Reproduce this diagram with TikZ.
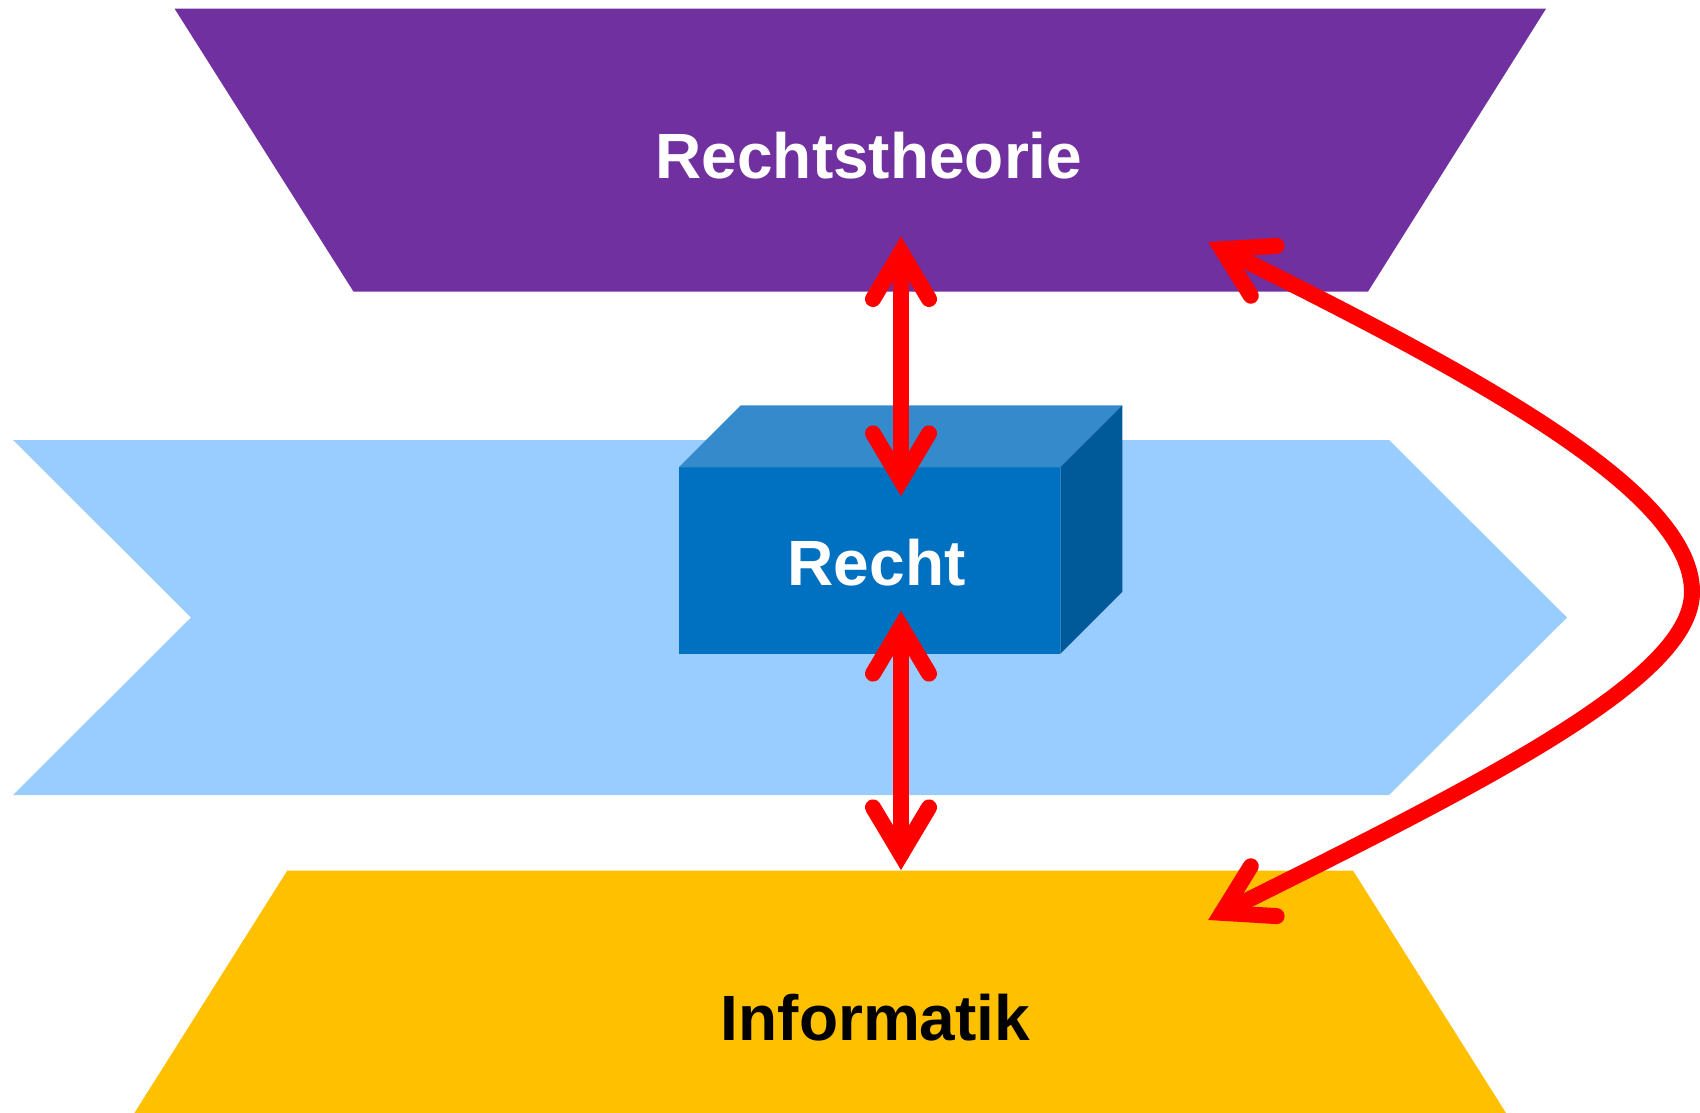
\documentclass[tikz,border=0pt]{standalone}
\usepackage{fontspec}
\setmainfont{Liberation Sans}
\definecolor{purp}{HTML}{7030A0}
\definecolor{lblue}{HTML}{99CCFF}
\definecolor{bfront}{HTML}{0070C0}
\definecolor{btop}{HTML}{358ACB}
\definecolor{bside}{HTML}{005A9A}
\definecolor{yell}{HTML}{FFC000}
\definecolor{arrred}{HTML}{FF0000}
\begin{document}
\begin{tikzpicture}[x=1pt,y=-1pt,
  lbl/.style={font=\fontsize{64}{76}\selectfont\bfseries, inner sep=0pt, anchor=base},
  link/.style={draw=arrred, line width=16pt, line cap=round, line join=miter}]
\useasboundingbox (0,0) rectangle (1700,1113);
% bands
\fill[purp] (174.6,8.7) -- (1546,8.7) -- (1368,291.6) -- (353.5,291.6) -- cycle;
\fill[lblue] (13,440) -- (1389,440) -- (1567,617.5) -- (1389,795) -- (13,795) -- (191,617.5) -- cycle;
\fill[yell] (287.3,870.6) -- (1353,870.6) -- (1506,1113) -- (134.4,1113) -- cycle;
% box
\fill[bfront] (678.7,467.3) rectangle (1060.3,653.8);
\fill[btop] (678.7,467.3) -- (740.7,405.3) -- (1122.3,405.3) -- (1060.3,467.3) -- cycle;
\fill[bside] (1060.3,467.3) -- (1122.3,405.3) -- (1122.3,591.8) -- (1060.3,653.8) -- cycle;
% labels
\node[lbl, text=white] (rt) at (869,178.9) {Rechtstheorie};
\node[lbl, text=white] (re) at (876.6,585.5) {Recht};
\node[lbl, text=black] (inf) at (875.5,1040.9) {Informatik};
% arrow 1
\coordinate (a1t) at (901,252);
\coordinate (a1b) at (901,480.4);
\draw[link] (a1t) -- (a1b);
\draw[link] (873,299) -- (a1t) -- (929,299);
\draw[link] (873,433.4) -- (a1b) -- (929,433.4);
% arrow 2
\coordinate (a2t) at (901,626.6);
\coordinate (a2b) at (901,854.4);
\draw[link] (a2t) -- (a2b);
\draw[link] (873,673.6) -- (a2t) -- (929,673.6);
\draw[link] (873,807.4) -- (a2b) -- (929,807.4);
% curved arrow
\coordinate (c1) at (1222,249.2);
\coordinate (cm) at (1692,592);
\coordinate (c2) at (1222,912.8);
\draw[link] (c1) .. controls (1482,378) and (1692,492) .. (cm) .. controls (1692,677) and (1495.3,777.4) .. (c2);
\draw[link] (1276.6,245.9) -- (c1) -- (1250.8,295.7);
\draw[link] (1276.6,916.1) -- (c2) -- (1250.8,866.3);
\end{tikzpicture}
\end{document}
